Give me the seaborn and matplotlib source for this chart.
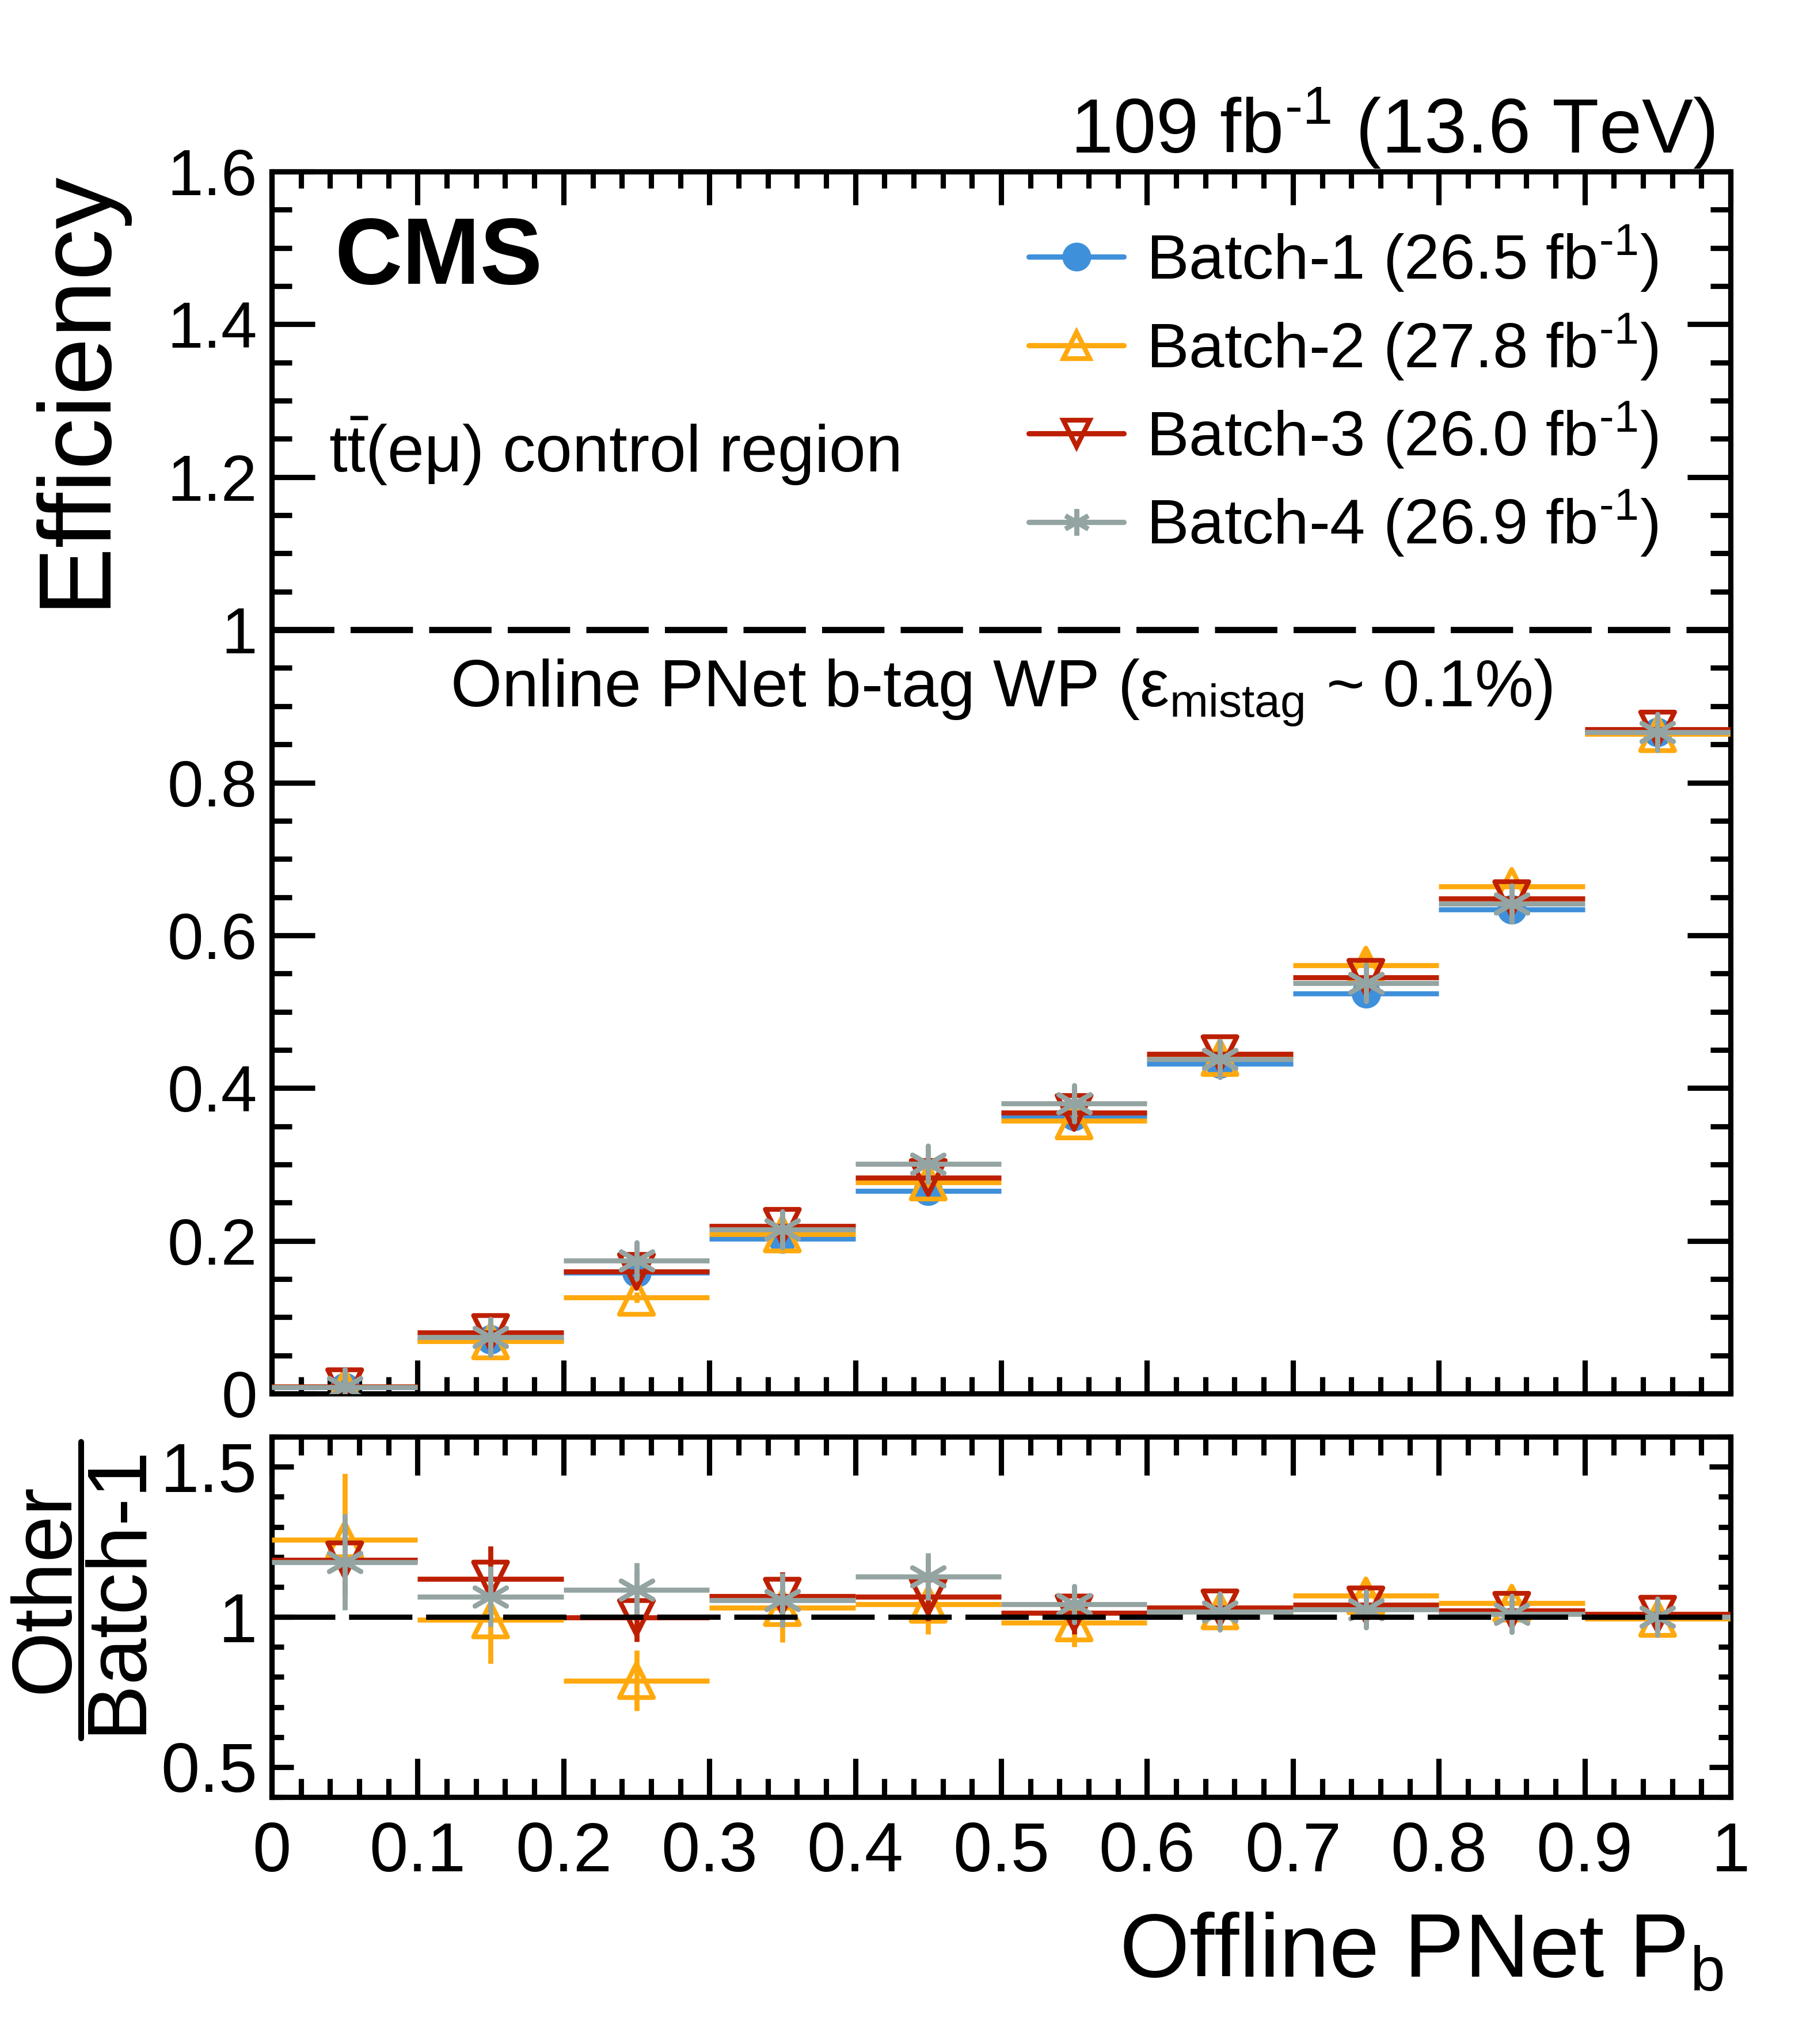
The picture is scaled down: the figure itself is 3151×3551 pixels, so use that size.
import numpy as np
import pandas as pd
import matplotlib
matplotlib.use("Agg")
import matplotlib.pyplot as plt
from matplotlib.lines import Line2D
from matplotlib.ticker import MultipleLocator, FuncFormatter
import seaborn as sns

# === Data ===
bin_centers = [0.05, 0.15, 0.25, 0.35, 0.45, 0.55, 0.65, 0.75, 0.85, 0.95]
bin_halfwidth = [0.05] * 10

eff_b1 = [0.008, 0.071, 0.158, 0.203, 0.265, 0.363, 0.432, 0.524, 0.634, 0.866]
eff_b2 = [0.009, 0.069, 0.126, 0.209, 0.277, 0.357, 0.440, 0.561, 0.664, 0.864]
eff_b3 = [0.009, 0.080, 0.160, 0.219, 0.283, 0.368, 0.445, 0.545, 0.648, 0.870]
eff_b4 = [0.008, 0.074, 0.174, 0.215, 0.301, 0.380, 0.438, 0.537, 0.641, 0.866]

efferr_b1 = [0.002, 0.004, 0.006, 0.006, 0.007, 0.008, 0.008, 0.008, 0.007, 0.004]
efferr_b2 = [0.003, 0.005, 0.007, 0.007, 0.008, 0.009, 0.009, 0.020, 0.008, 0.005]
efferr_b3 = [0.003, 0.005, 0.007, 0.007, 0.008, 0.009, 0.009, 0.009, 0.008, 0.005]
efferr_b4 = [0.003, 0.005, 0.007, 0.007, 0.008, 0.009, 0.009, 0.009, 0.008, 0.005]

ratio_b2 = [1.257, 0.990, 0.788, 1.031, 1.042, 0.980, 1.020, 1.070, 1.046, 0.995]
ratio_b3 = [1.190, 1.126, 0.998, 1.069, 1.067, 1.013, 1.030, 1.040, 1.022, 1.009]
ratio_b4 = [1.183, 1.068, 1.090, 1.055, 1.134, 1.042, 1.018, 1.024, 1.010, 1.000]

ratioerr_b2 = [0.22, 0.145, 0.10, 0.116, 0.10, 0.08, 0.05, 0.056, 0.045, 0.03]
ratioerr_b3 = [0.12, 0.110, 0.08, 0.080, 0.08, 0.07, 0.05, 0.050, 0.040, 0.03]
ratioerr_b4 = [0.16, 0.100, 0.09, 0.090, 0.078, 0.06, 0.045, 0.050, 0.040, 0.03]

batch_labels = [r"Batch-1 (26.5 fb$^{\text{-1}}$)", r"Batch-2 (27.8 fb$^{\text{-1}}$)",
                r"Batch-3 (26.0 fb$^{\text{-1}}$)", r"Batch-4 (26.9 fb$^{\text{-1}}$)"]
batch_colors = ["#3f90da", "#ffa90e", "#bd1f01", "#94a4a2"]
batch_markers = ["o", "^", "v", (6, 2, 0)]

# === Style ===
sns.set_theme(style="ticks")
plt.rcParams["font.family"] = ["Liberation Sans", "DejaVu Sans"]
plt.rcParams["mathtext.fontset"] = "custom"
plt.rcParams["mathtext.rm"] = "Liberation Sans"
plt.rcParams["mathtext.it"] = "Liberation Sans:italic"
plt.rcParams["mathtext.bf"] = "Liberation Sans:bold"
plt.rcParams["axes.linewidth"] = 2.2
for key in ["text.color", "axes.labelcolor", "axes.edgecolor", "xtick.color", "ytick.color"]:
    plt.rcParams[key] = "black"

fig = plt.figure(figsize=(3151 / 300, 3551 / 300), dpi=300)
ax = fig.add_axes([0.1498, 0.3182, 0.8042, 0.5979])
rax = fig.add_axes([0.1498, 0.1208, 0.8042, 0.1763])


def draw_batch(axis, y, yerr, i):
    col = batch_colors[i]
    axis.errorbar(bin_centers, y, xerr=bin_halfwidth, yerr=yerr, fmt="none",
                  ecolor=col, elinewidth=2.1, capsize=0, zorder=2 + i)
    df = pd.DataFrame({"x": bin_centers, "y": y})
    if i == 0:
        sns.scatterplot(data=df, x="x", y="y", ax=axis, marker="o", color=col,
                        s=150, edgecolor=col, linewidth=0, zorder=2.5 + i)
    elif i == 3:
        sns.scatterplot(data=df, x="x", y="y", ax=axis, marker=batch_markers[i],
                        color=col, s=230, linewidth=2.0, zorder=2.5 + i)
    else:
        sns.scatterplot(data=df, x="x", y="y", ax=axis, marker=batch_markers[i],
                        facecolor="none", edgecolor=col, s=200,
                        linewidth=2.0, zorder=2.5 + i)


# === Top panel: efficiencies ===
effs = [eff_b1, eff_b2, eff_b3, eff_b4]
errs = [efferr_b1, efferr_b2, efferr_b3, efferr_b4]
for i in range(4):
    draw_batch(ax, effs[i], errs[i], i)

ax.axhline(1.0, color="black", lw=2.6, dashes=(10, 2.6), zorder=1)
ax.set_xlim(0, 1)
ax.set_ylim(0, 1.6)
ax.set_xlabel("")
ax.set_ylabel("")
ax.xaxis.set_major_locator(MultipleLocator(0.1))
ax.xaxis.set_minor_locator(MultipleLocator(0.02))
ax.yaxis.set_major_locator(MultipleLocator(0.2))
ax.yaxis.set_minor_locator(MultipleLocator(0.05))
ax.tick_params(axis="both", which="both", direction="in", top=True, right=True,
               width=2.2, labelsize=27)
ax.tick_params(axis="x", which="major", length=14, labelbottom=False)
ax.tick_params(axis="x", which="minor", length=7)
ax.tick_params(axis="y", which="major", length=18, pad=6)
ax.tick_params(axis="y", which="minor", length=8.5)
ax.yaxis.set_major_formatter(FuncFormatter(lambda v, p: "%g" % round(v, 2)))

handles = [Line2D([0], [0], color=batch_colors[i], lw=2.2, marker=batch_markers[i],
                  markersize=[10, 11, 11, 11][i],
                  markerfacecolor=batch_colors[i] if i == 0 else "none",
                  markeredgecolor=batch_colors[i], markeredgewidth=2.0)
           for i in range(4)]
ax.legend(handles, batch_labels, loc="upper right", bbox_to_anchor=(0.968, 0.978),
          frameon=False, fontsize=26.5, handlelength=1.5, handletextpad=0.35,
          labelspacing=0.29, borderaxespad=0)

ax.text(0.043, 0.964, "CMS", transform=ax.transAxes, fontsize=39,
        fontweight="bold", ha="left", va="top")
ax.text(0.039, 0.754, r"t$\bar{\mathrm{t}}$(eμ) control region", transform=ax.transAxes,
        fontsize=27.5, ha="left", va="baseline")
ax.text(0.500, 0.562, r"Online PNet b-tag WP (ε$_{\mathrm{mistag}}$ ~ 0.1%)",
        transform=ax.transAxes, fontsize=27.5, ha="center", va="baseline")
ax.text(0.989, 1.015, r"109 fb$^{\text{-1}}$ (13.6 TeV)", transform=ax.transAxes,
        fontsize=32, ha="right", va="baseline")

fig.text(132 / 3151, 1 - 292 / 3551, "Efficiency", rotation=90, fontsize=43,
         ha="center", va="top")

# === Bottom panel: ratio to Batch-1 ===
ratios = [ratio_b2, ratio_b3, ratio_b4]
rerrs = [ratioerr_b2, ratioerr_b3, ratioerr_b4]
for j in range(3):
    draw_batch(rax, ratios[j], rerrs[j], j + 1)

rax.axhline(1.0, color="black", lw=2.2, dashes=(12, 2.6), zorder=10)
rax.set_xlim(0, 1)
rax.set_ylim(0.4, 1.6)
rax.set_xlabel("")
rax.set_ylabel("")
rax.xaxis.set_major_locator(MultipleLocator(0.1))
rax.xaxis.set_minor_locator(MultipleLocator(0.02))
rax.yaxis.set_major_locator(MultipleLocator(0.5))
rax.yaxis.set_minor_locator(MultipleLocator(0.1))
rax.tick_params(axis="both", which="both", direction="in", top=True, right=True,
                width=2.2, labelsize=29)
rax.tick_params(axis="x", which="major", length=16, pad=10)
rax.tick_params(axis="x", which="minor", length=7.6)
rax.tick_params(axis="y", which="major", length=9, pad=6)
rax.tick_params(axis="y", which="minor", length=5)
rax.xaxis.set_major_formatter(FuncFormatter(lambda v, p: "%g" % round(v, 2)))
rax.yaxis.set_major_formatter(FuncFormatter(lambda v, p: "%g" % round(v, 2)))

fig.text(2994 / 3151, 1 - 3434 / 3551, r"Offline PNet P$_{\mathrm{b}}$", fontsize=37.5,
         ha="right", va="baseline")

# ratio y-title drawn as a fraction
yc = 1 - 2760 / 3551
fig.text(80 / 3151, yc, "Other", rotation=90, fontsize=35, ha="center", va="center")
fig.text(205 / 3151, yc, "Batch-1", rotation=90, fontsize=35, ha="center", va="center")
fig.add_artist(Line2D([141 / 3151, 141 / 3151], [1 - 2505 / 3551, 1 - 3020 / 3551],
                      color="black", lw=2.4, transform=fig.transFigure))

fig.savefig("out.png", dpi=300)
